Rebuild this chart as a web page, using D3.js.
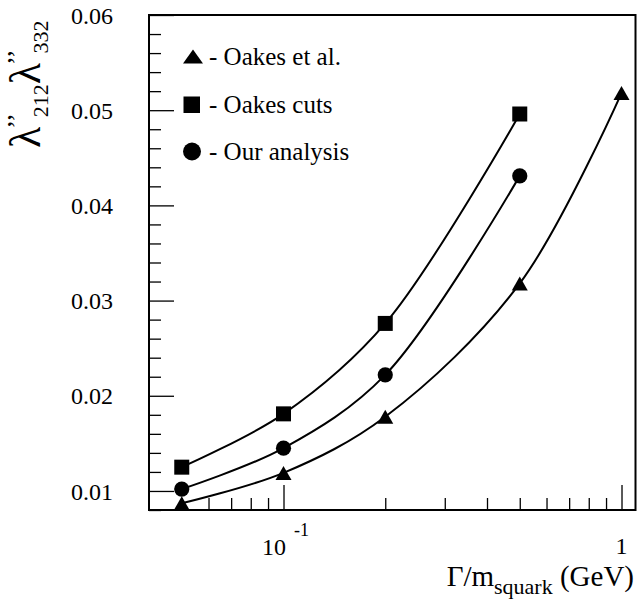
<!DOCTYPE html>
<html><head><meta charset="utf-8">
<script src="https://cdn.jsdelivr.net/npm/d3@7"></script>
<style>
html,body{margin:0;padding:0;background:#fff;}
svg{display:block;}
svg text{font-family:"Liberation Serif","Times New Roman",serif !important;fill:#000;}
</style></head>
<body>
<svg id="chart" width="637" height="603"></svg>
<script>
// ---- data ----
const widthOverMass = [0.05, 0.1, 0.2, 0.5, 1];
const oakesEtAl   = [0.0087, 0.0119, 0.0178, 0.0318, 0.0518];
const oakesCuts   = [0.0125, 0.0181, 0.0276, 0.0496];
const ourAnalysis = [0.0102, 0.0145, 0.0222, 0.0431];
const seriesNames = ["- Oakes et al.", "- Oakes cuts", "- Our analysis"];
const yMajorTicks = [0.01, 0.02, 0.03, 0.04, 0.05, 0.06];
const xMajorTicks = [0.1, 1];

const FONT = '"Liberation Serif", "Times New Roman", serif';
const svg = d3.select("#chart");
const L = 149, R = 635.5, T = 15, B = 510;
const x = d3.scaleLog().domain([0.04, 1.1]).range([L, R]);
const y = d3.scaleLinear().domain([0.008, 0.06]).range([B, T]);

// ---- axes ----
const yMinor = d3.range(0.008, 0.0601, 0.002).filter(v => !yMajorTicks.some(m => Math.abs(m - v) < 1e-6));
svg.append("g").attr("transform", `translate(${L},0)`)
  .call(d3.axisLeft(y).tickValues(yMinor).tickSize(-12).tickFormat(""))
  .call(g => { g.select(".domain").remove(); g.selectAll("line").attr("stroke","#000").attr("stroke-width",1.3); });
svg.append("g").attr("transform", `translate(${L},0)`)
  .call(d3.axisLeft(y).tickValues(yMajorTicks).tickSize(-25).tickPadding(36).tickFormat(d3.format(".2f")))
  .call(g => {
    g.select(".domain").remove();
    g.attr("font-family", null).attr("font-size", null);
    g.selectAll("line").attr("stroke","#000").attr("stroke-width",1.3);
    g.selectAll("text").style("font-family", FONT).attr("font-size", 24).attr("dy","0.34em");
  });

const xMinor = x.ticks().filter(v => v > 0.041 && v < 1.09 && !xMajorTicks.some(m => Math.abs(m - v) < 1e-9));
svg.append("g").attr("transform", `translate(0,${B})`)
  .call(d3.axisBottom(x).tickValues(xMinor).tickSize(-12).tickFormat(""))
  .call(g => { g.select(".domain").remove(); g.selectAll("line").attr("stroke","#000").attr("stroke-width",1.3); });
svg.append("g").attr("transform", `translate(0,${B})`)
  .call(d3.axisBottom(x).tickValues(xMajorTicks).tickSize(-25).tickFormat(""))
  .call(g => { g.select(".domain").remove(); g.selectAll("line").attr("stroke","#000").attr("stroke-width",1.3); });

// x tick labels
const lab1 = svg.append("text").attr("x", x(0.1) + 2).attr("y", 555).attr("text-anchor","middle").attr("font-size",24);
lab1.append("tspan").text("10");
lab1.append("tspan").attr("dx", 8).attr("dy", -19).attr("font-size", 18).text("-1");
svg.append("text").attr("x", x(1)).attr("y", 554).attr("text-anchor","middle").attr("font-size",24).text("1");

// frame
svg.append("rect").attr("x", L).attr("y", T).attr("width", R - L).attr("height", B - T)
  .attr("fill","none").attr("stroke","#000").attr("stroke-width",2);

// ---- curves ----
const line = d3.line().x(d => x(d[0])).y(d => y(d[1])).curve(d3.curveCatmullRom.alpha(0.5));
const sTri = widthOverMass.map((v,i) => [v, oakesEtAl[i]]);
const sSq  = oakesCuts.map((v,i) => [widthOverMass[i], v]);
const sCi  = ourAnalysis.map((v,i) => [widthOverMass[i], v]);
[sTri, sSq, sCi].forEach(s => {
  svg.append("path").attr("d", line(s)).attr("fill","none").attr("stroke","#000").attr("stroke-width",2);
});

// ---- markers ----
const triPath = (cx, cy, w, h) => `M${cx},${cy-h/2}L${cx+w/2},${cy+h/2}L${cx-w/2},${cy+h/2}Z`;
svg.append("g").selectAll("path").data(sTri).join("path")
  .attr("d", d => triPath(x(d[0]), y(d[1]), 16, 14)).attr("fill","#000");
svg.append("g").selectAll("rect").data(sSq).join("rect")
  .attr("x", d => x(d[0]) - 7.5).attr("y", d => y(d[1]) - 7.5).attr("width", 15).attr("height", 15).attr("fill","#000");
svg.append("g").selectAll("circle").data(sCi).join("circle")
  .attr("cx", d => x(d[0])).attr("cy", d => y(d[1])).attr("r", 7.6).attr("fill","#000");

// ---- legend ----
svg.append("path").attr("d", triPath(193, 56.5, 20, 14)).attr("fill","#000");
svg.append("rect").attr("x", 183.5).attr("y", 96.5).attr("width", 16.5).attr("height", 16.5).attr("fill","#000");
svg.append("circle").attr("cx", 192).attr("cy", 151.5).attr("r", 9).attr("fill","#000");
const legY = [65, 112.5, 160];
seriesNames.forEach((n,i) => {
  svg.append("text").attr("x", 209).attr("y", legY[i]).attr("font-size", 25).text(n);
});

// ---- axis titles ----
const xt = svg.append("text").attr("x", 634).attr("y", 586).attr("text-anchor","end").attr("font-size",29);
xt.append("tspan").text("Γ/m");
xt.append("tspan").attr("font-size",22).attr("dy",8).text("squark");
xt.append("tspan").attr("dy",-8).text(" (GeV)");

const yt = svg.append("text").attr("transform","translate(40,148) rotate(-90)").attr("font-size",44);
yt.append("tspan").text("λ");
yt.append("tspan").attr("font-size",26).attr("dx",-2).attr("dy",-15).text("’’");
yt.append("tspan").attr("font-size",22).attr("dx",-4).attr("dy",23).text("212");
yt.append("tspan").attr("dy",-8).text("λ");
yt.append("tspan").attr("font-size",26).attr("dx",-2).attr("dy",-15).text("’’");
yt.append("tspan").attr("font-size",22).attr("dx",-4).attr("dy",23).text("332");
</script>
</body></html>
